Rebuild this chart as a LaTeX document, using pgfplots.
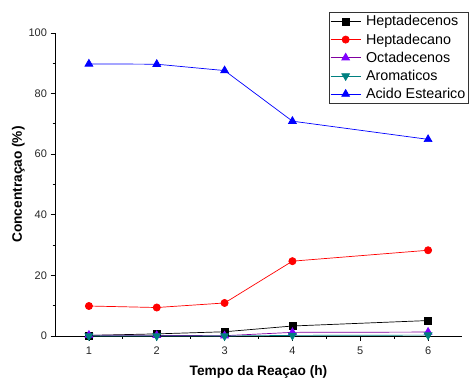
\documentclass[border=0pt]{standalone}
\usepackage{fontspec}
\setmainfont{Liberation Sans}
\usepackage{pgfplots}
\pgfplotsset{compat=1.18}
\definecolor{octa}{RGB}{128,0,255}
\definecolor{octaline}{RGB}{128,0,160}
\definecolor{aroma}{RGB}{0,128,128}
\begin{document}
\begin{tikzpicture}[x=1pt,y=1pt]
\useasboundingbox (0,0) rectangle (470,380);
\begin{axis}[
  at={(55pt,44pt)}, anchor=south west,
  scale only axis, width=407pt, height=303pt,
  xmin=0.5, xmax=6.5, ymin=0, ymax=100,
  axis x line*=bottom, axis y line*=left,
  axis line style={line width=0.9pt,-},
  xtick={1,2,3,4,5,6}, ytick={0,20,40,60,80,100},
  minor x tick num=1, minor y tick num=1,
  tick align=outside,
  major tick length=4.5pt, minor tick length=2.5pt,
  tick style={line width=0.8pt,black},
  /pgf/number format/assume math mode=true,
  tick label style={font=\fontsize{11}{13}\selectfont, text=black!85},
  xticklabel style={yshift=-3pt},
  xlabel={\textbf{Tempo da Reaçao (h)}},
  ylabel={\textbf{Concentraçao (\%)}},
  label style={font=\fontsize{13.7}{15}\selectfont},
  xlabel style={yshift=-4pt},
  ylabel style={yshift=-3pt},
  legend style={at={(0.673,1.069)}, anchor=north west, draw=black!80, line width=0.8pt,
    font=\fontsize{14.3}{16}\selectfont, cells={anchor=west}, inner sep=1pt, row sep=2.3pt},
  legend image code/.code={\draw[mark repeat=2,mark phase=2] plot coordinates {(0pt,0pt)(15pt,0pt)(30pt,0pt)};},
  every axis plot/.append style={line width=0.7pt},
  clip=false,
]
\addplot[black, mark=square*, mark size=3.5pt] coordinates {(1,0.2)(2,0.7)(3,1.4)(4,3.3)(6,5.1)};
\addlegendentry{\hspace{3pt}Heptadecenos}
\addplot[red, mark=*, mark size=3.6pt, mark options={fill=red}] coordinates {(1,9.9)(2,9.4)(3,10.9)(4,24.7)(6,28.3)};
\addlegendentry{\hspace{3pt}Heptadecano}
\addplot[octaline, mark=triangle*, mark size=4.5pt, mark options={fill=octa,draw=octa}] coordinates {(1,0.3)(2,0.2)(3,0.1)(4,1.2)(6,1.3)};
\addlegendentry{\hspace{3pt}Octadecenos}
\addplot[aroma, mark=triangle*, mark size=4.5pt, mark options={rotate=180,fill=aroma,draw=aroma}] coordinates {(1,0.0)(2,0.0)(3,0.0)(4,0.2)(6,0.3)};
\addlegendentry{\hspace{3pt}Aromaticos}
\addplot[blue, mark=triangle*, mark size=4.5pt, mark options={fill=blue}] coordinates {(1,89.8)(2,89.7)(3,87.6)(4,70.9)(6,64.9)};
\addlegendentry{\hspace{3pt}Acido Estearico}
\end{axis}
\end{tikzpicture}
\end{document}
